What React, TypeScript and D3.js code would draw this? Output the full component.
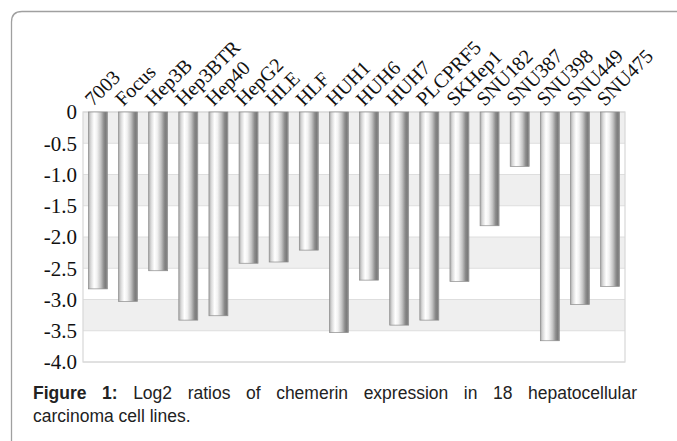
import React, { useMemo } from "react";
import * as d3 from "d3";

const categories = ["7003","Focus","Hep3B","Hep3BTR","Hep40","HepG2","HLE","HLF","HUH1","HUH6","HUH7","PLCPRF5","SKHep1","SNU182","SNU387","SNU398","SNU449","SNU475"];
const values = [-2.83,-3.03,-2.54,-3.33,-3.26,-2.42,-2.40,-2.21,-3.53,-2.69,-3.41,-3.33,-2.71,-1.82,-0.87,-3.66,-3.08,-2.79];
const yTicks = [0,-0.5,-1.0,-1.5,-2.0,-2.5,-3.0,-3.5,-4.0];
const yTickLabels = ["0","-0.5","-1.0","-1.5","-2.0","-2.5","-3.0","-3.5","-4.0"];
const captionBold = "Figure 1:";
const captionLine1 = "Log2 ratios of chemerin expression in 18 hepatocellular";
const captionLine2 = "carcinoma cell lines.";

const W = 677, H = 441;
const plot = { left: 83, right: 625, top: 112, bottom: 362 };

function measure(text: string, font: string): number {
  const c = document.createElement("canvas").getContext("2d")!;
  c.font = font;
  return c.measureText(text).width;
}

export default function App() {
  const x = d3.scaleBand<string>().domain(categories).range([plot.left, plot.right]).paddingInner(0.37).paddingOuter(0.18);
  const y = d3.scaleLinear().domain([0, -4]).range([plot.top, plot.bottom]);
  const band = d3.scaleBand<string>().domain(categories).range([plot.left, plot.right]);

  const capFont = "17.5px 'Liberation Sans', Arial, sans-serif";
  const capBoldFont = "bold 17.5px 'Liberation Sans', Arial, sans-serif";
  const capLeft = 33, capRight = 637;

  const line1Words = useMemo(() => {
    const words = [captionBold, ...captionLine1.split(" ")];
    const widths = words.map((w, i) => measure(w, i === 0 ? capBoldFont : capFont));
    // "Figure 1:" is bold, treat it as two words
    const boldParts = captionBold.split(" ");
    const parts = [...boldParts, ...captionLine1.split(" ")];
    const pw = parts.map((w, i) => measure(w, i < boldParts.length ? capBoldFont : capFont));
    const total = pw.reduce((a, b) => a + b, 0);
    const gap = (capRight - capLeft - total) / (parts.length - 1);
    let cx = capLeft;
    void widths;
    return parts.map((w, i) => {
      const pos = cx;
      cx += pw[i] + gap;
      return { w, x: pos, bold: i < boldParts.length };
    });
  }, []);

  const bands: [number, number][] = [];
  for (let v = 0; v > -4; v -= 1) bands.push([v, v - 0.5]);

  return (
    <svg width={W} height={H} style={{ position: "absolute", left: 0, top: 0, background: "#fff" }}>
      <defs>
        <linearGradient id="cyl" x1="0" x2="1" y1="0" y2="0">
          <stop offset="0" stopColor="#a8a8a8" />
          <stop offset="0.12" stopColor="#d8d8d8" />
          <stop offset="0.3" stopColor="#ffffff" />
          <stop offset="0.45" stopColor="#f2f2f2" />
          <stop offset="0.65" stopColor="#c4c4c4" />
          <stop offset="0.82" stopColor="#8a8a8a" />
          <stop offset="0.92" stopColor="#7a7a7a" />
          <stop offset="1" stopColor="#9a9a9a" />
        </linearGradient>
      </defs>
      {/* outer frame */}
      <path d={`M11.5,${H} L11.5,22 Q11.5,11.5 22,11.5 L${W},11.5`} fill="none" stroke="#a0a0a0" strokeWidth={1.3} />
      {/* plot background bands */}
      <rect x={plot.left} y={plot.top} width={plot.right - plot.left} height={plot.bottom - plot.top} fill="#fff" />
      {bands.map(([a, b], i) => (
        <rect key={i} x={plot.left} y={y(a)} width={plot.right - plot.left} height={y(b) - y(a)} fill="#efefef" />
      ))}
      {yTicks.map((t, i) => (
        <line key={i} x1={plot.left} x2={plot.right} y1={y(t)} y2={y(t)} stroke="#dedede" strokeWidth={1} />
      ))}
      <rect x={plot.left} y={plot.top} width={plot.right - plot.left} height={plot.bottom - plot.top} fill="none" stroke="#d8d8d8" strokeWidth={1.2} />
      {/* bars */}
      {categories.map((c, i) => (
        <rect key={c} x={x(c)!} y={y(0)} width={x.bandwidth()} height={y(values[i]) - y(0)} fill="url(#cyl)" stroke="#8c8c8c" strokeWidth={0.7} />
      ))}
      {/* y labels */}
      {yTicks.map((t, i) => (
        <text key={i} x={77} y={y(t)} dy="0.35em" textAnchor="end" fontFamily="'Liberation Serif', 'Times New Roman', serif" fontSize={21} fill="#111">{yTickLabels[i]}</text>
      ))}
      {/* x labels */}
      {categories.map((c) => {
        const cx = band(c)! + band.bandwidth() / 2 - 5;
        const cy = 107;
        return (
          <text key={c} x={cx} y={cy} transform={`rotate(-45 ${cx} ${cy})`} fontFamily="'Liberation Serif', 'Times New Roman', serif" fontSize={20} fill="#111">{c}</text>
        );
      })}
      {/* caption */}
      {line1Words.map((w, i) => (
        <text key={i} x={w.x} y={399} fontFamily="'Liberation Sans', Arial, sans-serif" fontSize={17.5} fontWeight={w.bold ? "bold" : "normal"} fill="#222">{w.w}</text>
      ))}
      <text x={capLeft} y={422} fontFamily="'Liberation Sans', Arial, sans-serif" fontSize={17.5} fill="#222">{captionLine2}</text>
    </svg>
  );
}
